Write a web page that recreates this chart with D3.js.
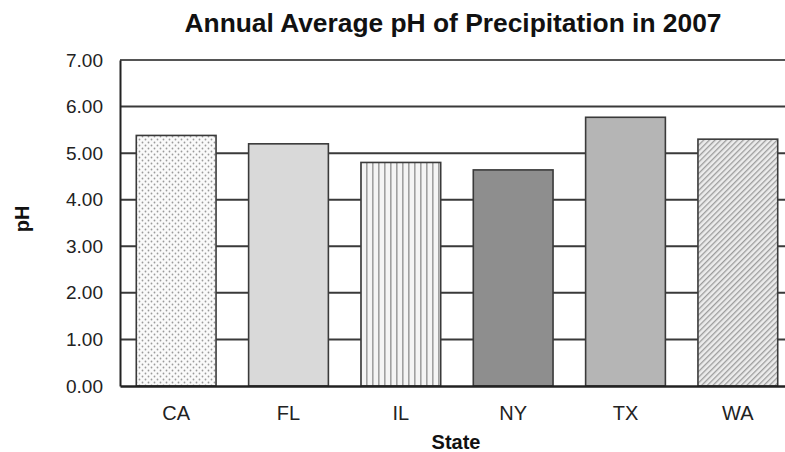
<!DOCTYPE html>
<html>
<head>
<meta charset="utf-8">
<script src="https://cdn.jsdelivr.net/npm/d3@7"></script>
<style>
  html, body { margin: 0; padding: 0; background: #fff; }
  svg { display: block; }
  text { font-family: "Liberation Sans", Arial, Helvetica, sans-serif; }
</style>
</head>
<body>
<svg id="chart" width="785" height="452"></svg>
<script>
const states = ["CA", "FL", "IL", "NY", "TX", "WA"];
const phValues = [5.38, 5.20, 4.80, 4.64, 5.77, 5.30];
const yTicks = [0, 1, 2, 3, 4, 5, 6, 7];
const fills = ["url(#dots)", "#d9d9d9", "url(#vstripes)", "#8e8e8e", "#b5b5b5", "url(#hatch)"];

const svg = d3.select("#chart");
const margin = { left: 120, top: 60, bottom: 386, right: 794 };

const x = d3.scaleBand().domain(states).range([margin.left, margin.right]).paddingInner(0.29).paddingOuter(0.145);
const y = d3.scaleLinear().domain([0, 7]).range([margin.bottom, margin.top]);

// patterns
const defs = svg.append("defs");
const dots = defs.append("pattern").attr("id", "dots").attr("patternUnits", "userSpaceOnUse")
  .attr("width", 6).attr("height", 6);
dots.append("rect").attr("width", 6).attr("height", 6).attr("fill", "#fafafa");
dots.append("circle").attr("cx", 1.5).attr("cy", 1.5).attr("r", 0.9).attr("fill", "#9a9a9a");
dots.append("circle").attr("cx", 4.5).attr("cy", 4.5).attr("r", 0.9).attr("fill", "#9a9a9a");

const vs = defs.append("pattern").attr("id", "vstripes").attr("patternUnits", "userSpaceOnUse")
  .attr("width", 6).attr("height", 10);
vs.append("rect").attr("width", 6).attr("height", 10).attr("fill", "#f4f4f4");
vs.append("rect").attr("x", 0).attr("width", 1.6).attr("height", 10).attr("fill", "#a0a0a0");

const hatch = defs.append("pattern").attr("id", "hatch").attr("patternUnits", "userSpaceOnUse")
  .attr("width", 4).attr("height", 4).attr("patternTransform", "rotate(45)");
hatch.append("rect").attr("width", 4).attr("height", 4).attr("fill", "#ececec");
hatch.append("rect").attr("x", 0).attr("width", 1.3).attr("height", 4).attr("fill", "#9c9c9c");

// gridlines
svg.append("g").selectAll("line").data(yTicks.filter(d => d > 0)).join("line")
  .attr("x1", margin.left).attr("x2", margin.right)
  .attr("y1", d => y(d)).attr("y2", d => y(d))
  .attr("stroke", d => d === 7 ? "#555" : "#3a3a3a")
  .attr("stroke-width", 2);

// bars
svg.append("g").selectAll("rect").data(states).join("rect")
  .attr("x", d => x(d))
  .attr("y", (d, i) => y(phValues[i]))
  .attr("width", x.bandwidth())
  .attr("height", (d, i) => y(0) - y(phValues[i]))
  .attr("fill", (d, i) => fills[i])
  .attr("stroke", "#3a3a3a")
  .attr("stroke-width", 1.6);

// y axis
const yAxis = d3.axisLeft(y).tickValues(yTicks).tickSize(0).tickPadding(17).tickFormat(d3.format(".2f"));
const gy = svg.append("g").attr("transform", `translate(${margin.left},0)`).call(yAxis);
gy.select(".domain").attr("stroke", "#222").attr("stroke-width", 2);
gy.selectAll("text").attr("font-size", 19).attr("fill", "#222");

// x axis
const xAxis = d3.axisBottom(x).tickSize(0).tickPadding(20);
const gx = svg.append("g").attr("transform", `translate(0,${margin.bottom})`).call(xAxis);
gx.select(".domain").attr("stroke", "#222").attr("stroke-width", 2.5);
gx.selectAll("text").attr("font-size", 20).attr("fill", "#222");

// title
svg.append("text").attr("x", 453).attr("y", 32).attr("text-anchor", "middle")
  .attr("font-size", 25).attr("font-weight", "bold").attr("fill", "#111")
  .attr("textLength", 537).attr("lengthAdjust", "spacingAndGlyphs")
  .text("Annual Average pH of Precipitation in 2007");

// axis titles
svg.append("text").attr("x", 456).attr("y", 449).attr("text-anchor", "middle")
  .attr("font-size", 20).attr("font-weight", "bold").attr("fill", "#111").text("State");
svg.append("text").attr("transform", "translate(29,219) rotate(-90)").attr("text-anchor", "middle")
  .attr("font-size", 20).attr("font-weight", "bold").attr("fill", "#111").text("pH");
</script>
</body>
</html>
